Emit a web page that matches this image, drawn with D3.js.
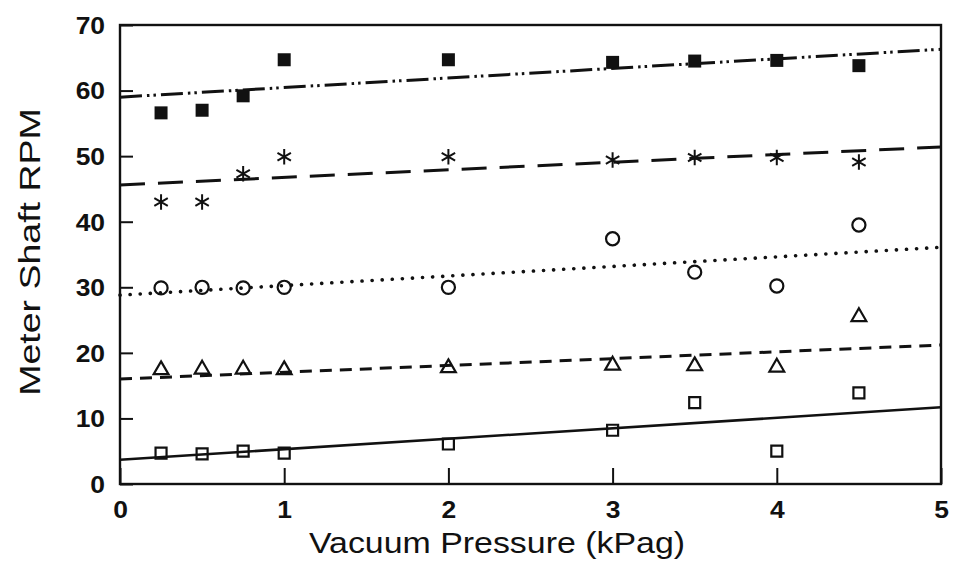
<!DOCTYPE html>
<html>
<head>
<meta charset="utf-8">
<script src="https://cdn.jsdelivr.net/npm/d3@7"></script>
<style>
  html, body { margin: 0; padding: 0; background: #fff; }
  svg { display: block; }
  text { font-family: "Liberation Sans", Arial, Helvetica, sans-serif; fill: #111; }
</style>
</head>
<body>
<svg id="chart" width="953" height="569"></svg>
<script>
// ---- data ----
const pressures = [0.25, 0.5, 0.75, 1, 2, 3, 3.5, 4, 4.5];

const filledSquareRPM = [56.6, 57.0, 59.2, 64.7, 64.7, 64.3, 64.5, 64.6, 63.8];
const asteriskRPM     = [43.0, 43.0, 47.3, 49.9, 49.9, 49.4, 49.8, 49.8, 49.1];
const circleRPM       = [29.9, 30.0, 29.9, 30.0, 30.0, 37.4, 32.3, 30.2, 39.5];
const triangleRPM     = [17.4, 17.5, 17.5, 17.4, 17.7, 18.1, 18.0, 17.8, 25.5];
const openSquareRPM   = [4.7, 4.6, 5.0, 4.7, 6.1, 8.2, 12.4, 5.0, 13.9];

// fitted trend lines: value at x = 0 and at x = 5
const fitX = [0, 5];
const filledSquareFit = [59.0, 66.3];
const asteriskFit     = [45.6, 51.4];
const circleFit       = [28.8, 36.1];
const triangleFit     = [16.0, 21.2];
const openSquareFit   = [3.7, 11.7];

const xTicks = [0, 1, 2, 3, 4, 5];
const yTicks = [0, 10, 20, 30, 40, 50, 60, 70];

// ---- layout ----
const svg = d3.select("#chart");
const ink = "#111";
const x = d3.scaleLinear().domain([0, 5]).range([120, 941]);
const y = d3.scaleLinear().domain([0, 70]).range([484, 25]);

// axes (ticks pointing inward)
const yAxis = d3.axisLeft(y).tickValues(yTicks).tickSize(-13).tickPadding(13).tickFormat(d3.format("d"));
const xAxis = d3.axisBottom(x).tickValues(xTicks).tickSize(-16).tickPadding(18).tickFormat(d3.format("d"));

const gy = svg.append("g").attr("transform", `translate(${x(0)},0)`).call(yAxis);
const gx = svg.append("g").attr("transform", `translate(0,${y(0)})`).call(xAxis);
[gx, gy].forEach(g => {
  g.select(".domain").remove();
  g.selectAll(".tick line").attr("stroke", ink).attr("stroke-width", 2);
  g.selectAll(".tick text")
    .attr("fill", ink)
    .attr("transform", "scale(1.15,1)")
    .style("font-size", "23px")
    .style("font-weight", "bold")
    .style("font-family", '"Liberation Sans", Arial, sans-serif');
});
gy.selectAll(".tick text").attr("dy", "0.36em");

// frame
svg.append("rect")
  .attr("x", x(0)).attr("y", y(70))
  .attr("width", x(5) - x(0)).attr("height", y(0) - y(70))
  .attr("fill", "none").attr("stroke", ink).attr("stroke-width", 2.4);

// fit lines
const line = d3.line().x(d => x(d[0])).y(d => y(d[1]));
const fits = [
  { v: filledSquareFit, dash: "22,5,2.5,4,2.5,5", w: 3, cap: "butt" },
  { v: asteriskFit,     dash: "25,13",           w: 3, cap: "butt" },
  { v: circleFit,       dash: "0.1,10",          w: 3.6, cap: "round" },
  { v: triangleFit,     dash: "12,8",            w: 3, cap: "butt" },
  { v: openSquareFit,   dash: null,              w: 2.6, cap: "butt" }
];
fits.forEach(f => {
  svg.append("path")
    .datum(fitX.map((xx, i) => [xx, f.v[i]]))
    .attr("d", line)
    .attr("fill", "none")
    .attr("stroke", ink)
    .attr("stroke-width", f.w)
    .attr("stroke-linecap", f.cap)
    .attr("stroke-dasharray", f.dash);
});

// markers
const series = [
  { v: filledSquareRPM, sym: d3.symbolSquare,   size: 169, fill: ink,  stroke: "none", sw: 0 },
  { v: asteriskRPM,     sym: d3.symbolAsterisk, size: 170, fill: "none", stroke: ink, sw: 2 },
  { v: circleRPM,       sym: d3.symbolCircle,   size: 135, fill: "none", stroke: ink, sw: 2.2 },
  { v: triangleRPM,     sym: d3.symbolTriangle, size: 95,  fill: "none", stroke: ink, sw: 2.2 },
  { v: openSquareRPM,   sym: d3.symbolSquare,   size: 121, fill: "none", stroke: ink, sw: 2.2 }
];
series.forEach(s => {
  svg.append("g").selectAll("path")
    .data(pressures.map((p, i) => [p, s.v[i]]))
    .join("path")
    .attr("transform", d => `translate(${x(d[0])},${y(d[1])})`)
    .attr("d", d3.symbol().type(s.sym).size(s.size))
    .attr("fill", s.fill)
    .attr("stroke", s.stroke)
    .attr("stroke-width", s.sw);
});

// axis titles
svg.append("text")
  .attr("transform", "translate(497,553) scale(1.13,1)")
  .attr("text-anchor", "middle")
  .style("font-size", "30px")
  .text("Vacuum Pressure (kPag)");

svg.append("text")
  .attr("transform", "translate(40,252) rotate(-90) scale(1.25,1)")
  .attr("text-anchor", "middle")
  .style("font-size", "30px")
  .text("Meter Shaft RPM");
</script>
</body>
</html>
